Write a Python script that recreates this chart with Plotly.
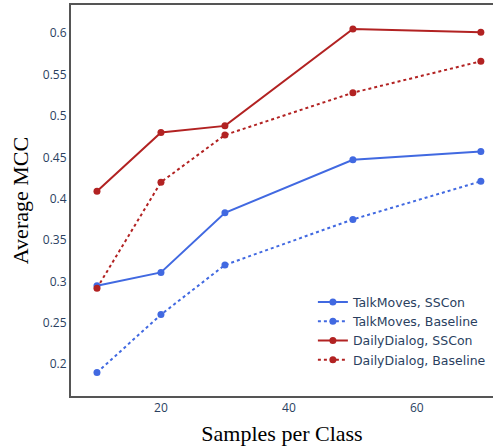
import plotly.graph_objects as go

samples = [10, 20, 30, 50, 70]
talkmoves_sscon = [0.295, 0.311, 0.383, 0.447, 0.457]
talkmoves_baseline = [0.190, 0.260, 0.320, 0.375, 0.421]
dailydialog_sscon = [0.409, 0.480, 0.488, 0.605, 0.601]
dailydialog_baseline = [0.292, 0.420, 0.477, 0.528, 0.566]

series = [
    ("TalkMoves, SSCon", talkmoves_sscon, "royalblue", "solid"),
    ("TalkMoves, Baseline", talkmoves_baseline, "royalblue", "dot"),
    ("DailyDialog, SSCon", dailydialog_sscon, "firebrick", "solid"),
    ("DailyDialog, Baseline", dailydialog_baseline, "firebrick", "dot"),
]

fig = go.Figure()
for name, vals, color, dash in series:
    fig.add_trace(go.Scatter(
        x=samples, y=vals, name=name, mode="lines+markers",
        line=dict(color=color, width=2, dash=dash),
        marker=dict(color=color, size=7),
    ))

fig.update_layout(
    width=493, height=447,
    margin=dict(l=71, r=0, t=5, b=51),
    plot_bgcolor="white", paper_bgcolor="white",
    font=dict(family="Open Sans", size=12, color="#2a3f5f"),
    legend=dict(x=0.995, xanchor="right", y=0.055, yanchor="bottom",
                bgcolor="rgba(0,0,0,0)", font=dict(family="DejaVu Sans", size=12.5)),
)
fig.update_xaxes(
    range=[5.94, 71.9], tickvals=[20, 40, 60], showgrid=False, zeroline=False,
    showline=True, linecolor="#555", linewidth=2, mirror=True,
    title=dict(text="Samples per Class", font=dict(family="Liberation Serif", size=22, color="black"), standoff=10),
)
fig.update_yaxes(
    range=[0.1617, 0.634], tickvals=[0.2, 0.25, 0.3, 0.35, 0.4, 0.45, 0.5, 0.55, 0.6],
    ticktext=["0.2", "0.25", "0.3", "0.35", "0.4", "0.45", "0.5", "0.55", "0.6"],
    showgrid=False, zeroline=False,
    showline=True, linecolor="#555", linewidth=2,
    title=dict(text="Average MCC", font=dict(family="Liberation Serif", size=22, color="black"), standoff=8),
)

fig.write_html("out.html", config={"displayModeBar": False},
               post_script="document.body.style.margin='0';document.body.style.overflow='hidden';")
